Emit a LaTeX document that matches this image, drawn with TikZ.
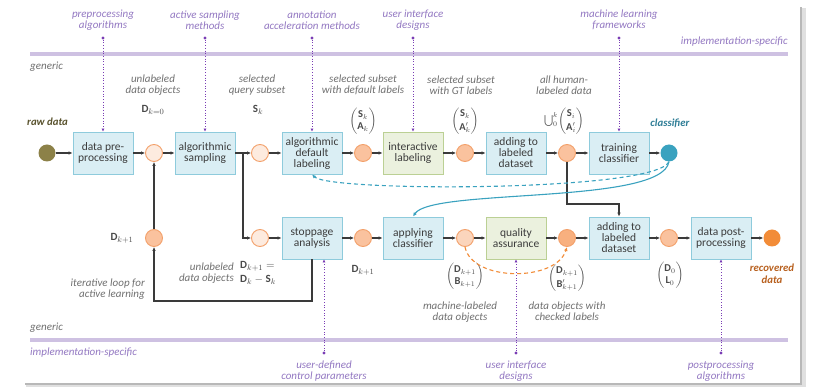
\documentclass[tikz,border=0pt]{standalone}
\usepackage{amsmath}
\usepackage{fontspec}
\setmainfont{Carlito}
\usepackage{tikz}
\usetikzlibrary{arrows.meta}
\definecolor{boxfill}{HTML}{DAEEF4}
\definecolor{boxline}{HTML}{8ECBDC}
\definecolor{grnfill}{HTML}{EBF1DE}
\definecolor{grnline}{HTML}{BBD094}
\definecolor{boxtext}{HTML}{3C3C3C}
\definecolor{orline}{HTML}{F3A06A}
\definecolor{orlight}{HTML}{FDEBDF}
\definecolor{ormid}{HTML}{FAC29E}
\definecolor{orsoft}{HTML}{FBD5BC}
\definecolor{ordeep}{HTML}{F8B07F}
\definecolor{orfull}{HTML}{F28C38}
\definecolor{rawcol}{HTML}{8C8148}
\definecolor{rawtext}{HTML}{5A532E}
\definecolor{clscol}{HTML}{3AA2BF}
\definecolor{clstext}{HTML}{2E7D96}
\definecolor{flowc}{HTML}{3A3A3A}
\definecolor{purp}{HTML}{7A3DB5}
\definecolor{purtext}{HTML}{9378C2}
\definecolor{band}{HTML}{CEC1E2}
\definecolor{notegray}{HTML}{707070}
\definecolor{mathgray}{HTML}{4A4A4A}
\definecolor{rectext}{HTML}{B8601E}

\begin{document}
\begin{tikzpicture}[x=1pt, y=-1pt,
  box/.style={draw=boxline, fill=boxfill, line width=0.9pt, minimum width=60pt, minimum height=42pt, align=center, inner sep=1pt, text=boxtext, font=\fontsize{11.5}{11}\selectfont},
  gbox/.style={box, draw=grnline, fill=grnfill},
  dot/.style={circle, draw=orline, line width=0.9pt, minimum size=17pt, inner sep=0pt},
  flow/.style={draw=flowc, line width=1.1pt, -{Latex[length=4pt,width=3.6pt]}},
  spec/.style={draw=purp, dotted, line width=0.7pt, -{Latex[length=3pt,width=3pt]}},
  pin/.style={circle, fill=purp, inner sep=0pt, minimum size=3.2pt},
  note/.style={text=notegray, font=\fontsize{11}{11.5}\selectfont\itshape, align=center, inner sep=0pt},
  pnote/.style={note, text=purtext},
  mlbl/.style={text=mathgray, inner sep=0pt, font=\fontsize{11}{12.5}\selectfont},
  mtx/.style={mlbl, font=\fontsize{10.5}{12}\selectfont},
  tag/.style={font=\fontsize{10.8}{11.5}\selectfont\bfseries\itshape, align=center, inner sep=0pt}]
\useasboundingbox (0,0) rectangle (815,387);
\fill[black!12] (26,8) rectangle (806,387);
\fill[black!28] (25,7) rectangle (802,385);
\fill[white] (23,4) rectangle (800,383);

\draw[band, line width=4pt] (30,54) -- (788,54);
\draw[band, line width=4pt] (30,340) -- (788,340);
\node[note, anchor=west] (gen1) at (30,67) {generic};
\node[pnote, anchor=east] (imp1) at (788,42) {implementation-specific};
\node[note, anchor=west] (gen2) at (30,328) {generic};
\node[pnote, anchor=west] (imp2) at (30,353) {implementation-specific};

\node[circle, fill=rawcol, minimum size=17pt, inner sep=0pt] (raw) at (47,153) {};
\node[box] (prep) at (103,153) {data pre-\\processing};
\node[dot, fill=orlight] (c1) at (154,153) {};
\node[box] (samp) at (205,153) {algorithmic\\sampling};
\node[dot, fill=orlight] (c2) at (260,153) {};
\node[box] (dlab) at (312,153) {algorithmic\\default\\labeling};
\node[dot, fill=ormid] (c3) at (363,153) {};
\node[gbox] (ilab) at (413,153) {interactive\\labeling};
\node[dot, fill=ormid] (c4) at (465,153) {};
\node[box] (add1) at (516,153) {adding to\\labeled\\dataset};
\node[dot, fill=ormid] (c5) at (567,153) {};
\node[box] (train) at (619,153) {training\\classifier};
\node[circle, fill=clscol, minimum size=17pt, inner sep=0pt] (cls) at (669,153) {};

\node[dot, fill=ormid] (dk1) at (154,238) {};
\node[dot, fill=orlight] (b2) at (260,238) {};
\node[box] (stop) at (312,238) {stoppage\\analysis};
\node[dot, fill=ormid] (b3) at (363,238) {};
\node[box] (appl) at (413,238) {applying\\classifier};
\node[dot, fill=orsoft] (b4) at (465,238) {};
\node[gbox] (qual) at (516,238) {quality\\assurance};
\node[dot, fill=ordeep] (b5) at (567,238) {};
\node[box] (add2) at (619,238) {adding to\\labeled\\dataset};
\node[dot, fill=ormid] (b6) at (669,238) {};
\node[box] (post) at (721,238) {data post-\\processing};
\node[circle, fill=orfull, minimum size=17pt, inner sep=0pt] (rec) at (772,238) {};

\node[pnote] (p1) at (103,20) {preprocessing\\algorithms};
\node[pnote] (p2) at (205,20) {active sampling\\methods};
\node[pnote] (p3) at (312,20) {annotation\\acceleration methods};
\node[pnote] (p4) at (413,20) {user interface\\designs};
\node[pnote] (p5) at (619,20) {machine learning\\frameworks};
\node[pnote] (p6) at (324,371) {user-defined\\control parameters};
\node[pnote] (p7) at (516,371) {user interface\\designs};
\node[pnote] (p8) at (721,371) {postprocessing\\algorithms};
\node[pin] (d1) at (103,38) {};
\node[pin] (d2) at (205,38) {};
\node[pin] (d3) at (312,38) {};
\node[pin] (d4) at (413,38) {};
\node[pin] (d5) at (619,38) {};
\node[pin] (d6) at (324,353) {};
\node[pin] (d7) at (516,353) {};
\node[pin] (d8) at (721,353) {};
\draw[spec] (d1) -- (prep);
\draw[spec] (d2) -- (samp);
\draw[spec] (d3) -- (dlab);
\draw[spec] (d4) -- (ilab);
\draw[spec] (d5) -- (train);
\draw[spec] (d6) -- (stop.south -| d6);
\draw[spec] (d7) -- (qual);
\draw[spec] (d8) -- (post);

\node[tag, text=rawtext, anchor=west] (rawl) at (27,122) {raw data};
\node[tag, text=clstext] (clsl) at (670,123) {classifier};
\node[tag, text=rectext] (recl) at (772,274) {recovered\\data};

\node[note] (t1) at (153,85) {unlabeled\\data objects};
\node[mlbl] (m1) at (153,110) {$\mathbf{D}_{k=0}$};
\node[note] (t2) at (257,85) {selected\\query subset};
\node[mlbl] (m2) at (258,110) {$\mathbf{S}_k$};
\node[note] (t3) at (363,85) {selected subset\\with default labels};
\node[mtx] (m3) at (363,121) {$\begin{pmatrix}\mathbf{S}_k\\ \mathbf{A}_k\end{pmatrix}$};
\node[note] (t4) at (461,85) {selected subset\\with GT labels};
\node[mtx] (m4) at (465,121) {$\begin{pmatrix}\mathbf{S}_k\\[1.5pt] \mathbf{A}'_k\end{pmatrix}$};
\node[note] (t5) at (564,85) {all human-\\labeled data};
\node[mtx] (m5) at (564,121) {$\bigcup\nolimits_0^k\!\begin{pmatrix}\mathbf{S}_i\\[1.5pt] \mathbf{A}'_i\end{pmatrix}$};

\node[mlbl] (m6) at (122,238) {$\mathbf{D}_{k+1}$};
\node[note, align=right, anchor=east] (t6) at (145,289) {iterative loop for\\active learning};
\node[note, align=right, anchor=east] (t7) at (234,273) {unlabeled\\data objects};
\node[mlbl, align=left, anchor=west] (m7) at (240,273) {$\mathbf{D}_{k+1} =$\\[1.5pt]$\mathbf{D}_{k} - \mathbf{S}_k$};
\node[mlbl] (m8) at (363,270) {$\mathbf{D}_{k+1}$};
\node[mtx] (m9) at (465,276) {$\begin{pmatrix}\mathbf{D}_{k+1}\\ \mathbf{B}_{k+1}\end{pmatrix}$};
\node[mtx] (m10) at (567,278) {$\begin{pmatrix}\mathbf{D}_{k+1}\\[1.5pt] \mathbf{B}'_{k+1}\end{pmatrix}$};
\node[mtx] (m11) at (670,275) {$\begin{pmatrix}\mathbf{D}_{0}\\ \mathbf{L}_{0}\end{pmatrix}$};
\node[note] (t8) at (460,312) {machine-labeled\\data objects};
\node[note] (t9) at (567,311) {data objects with\\checked labels};

\draw[flow] (raw) -- (prep);
\draw[flow] (prep) -- (c1);
\draw[flow] (c1) -- (samp);
\draw[flow] (samp) -- (c2);
\draw[flow] (c2) -- (dlab);
\draw[flow] (dlab) -- (c3);
\draw[flow] (c3) -- (ilab);
\draw[flow] (ilab) -- (c4);
\draw[flow] (c4) -- (add1);
\draw[flow] (add1) -- (c5);
\draw[flow] (c5) -- (train);
\draw[flow] (train) -- (cls);

\draw[flow] (b2) -- (stop);
\draw[flow] (stop) -- (b3);
\draw[flow] (b3) -- (appl);
\draw[flow] (appl) -- (b4);
\draw[flow] (b4) -- (qual);
\draw[flow] (qual) -- (b5);
\draw[flow] (b5) -- (add2);
\draw[flow] (add2) -- (b6);
\draw[flow] (b6) -- (post);
\draw[flow] (post) -- (rec);

\coordinate (split) at (243,153);
\coordinate (loop) at (154,301);
\coordinate (drop) at (567,204);
\draw[flow] (split) |- (b2);
\draw[flow] (stop.south) |- (loop) -- (dk1);
\draw[flow] (dk1) -- (c1);
\draw[flow] (c5) -- (drop) -| (add2);

\draw[clscol, line width=1.1pt, dash pattern=on 4pt off 3pt, -{Latex[length=4pt,width=3.6pt]}] (cls.south) .. controls (655,192) and (330,192) .. (dlab.south);
\draw[clscol, line width=1.1pt, -{Latex[length=4pt,width=3.6pt]}] (cls.south) .. controls (662,205) and (432,188) .. (appl.north);
\draw[orfull, line width=1.1pt, dash pattern=on 4pt off 3pt, -{Latex[length=4pt,width=3.6pt]}] (b4.south) .. controls (472,282) and (556,282) .. (b5.south);
\end{tikzpicture}
\end{document}
